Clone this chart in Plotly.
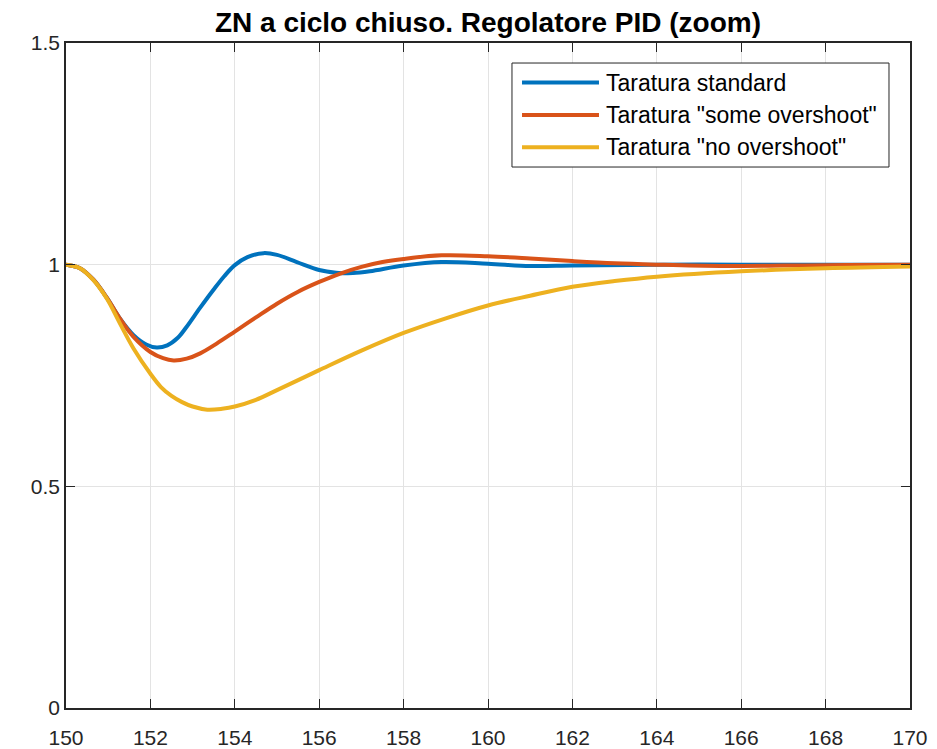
import plotly.graph_objects as go

# --- data ---
t_std = [150, 150.33, 150.65, 150.97, 151.28, 151.6, 151.9, 152.15, 152.4, 152.65,
         152.86, 153.18, 153.5, 153.75, 154.0, 154.3, 154.68, 155.0, 155.47, 156.0,
         156.4, 156.8, 157.2, 158.0, 158.9, 160.0, 161.0, 162.0, 164.0, 166.0, 168.0, 170.0]
y_std = [1.0, 0.992, 0.966, 0.925, 0.878, 0.841, 0.82, 0.813, 0.818, 0.835,
         0.86, 0.903, 0.944, 0.974, 0.999, 1.017, 1.026, 1.022, 1.006, 0.988,
         0.982, 0.981, 0.985, 0.998, 1.006, 1.002, 0.997, 0.998, 1.0, 1.0, 1.0, 1.0]

t_some = [150, 150.33, 150.65, 150.97, 151.28, 151.6, 152.0, 152.3, 152.55, 152.86,
          153.18, 153.57, 154.0, 154.5, 155.0, 155.5, 156.0, 156.5, 157.0, 157.5,
          158.0, 158.9, 160.0, 161.0, 162.0, 163.0, 164.0, 165.5, 167.0, 168.5, 170.0]
y_some = [1.0, 0.992, 0.966, 0.925, 0.878, 0.837, 0.803, 0.789, 0.784, 0.788,
          0.8, 0.822, 0.849, 0.881, 0.912, 0.939, 0.961, 0.98, 0.995, 1.006,
          1.013, 1.021, 1.019, 1.014, 1.008, 1.003, 1.0, 0.997, 0.998, 0.999, 1.0]

t_no = [150, 150.33, 150.65, 150.97, 151.28, 151.6, 152.0, 152.25, 152.5, 152.75,
        153.0, 153.35, 153.7, 154.0, 154.5, 155.0, 156.0, 157.0, 158.0, 159.0,
        160.0, 161.0, 162.0, 163.0, 164.0, 166.0, 168.0, 170.0]
y_no = [1.0, 0.992, 0.965, 0.923, 0.867, 0.811, 0.754, 0.724, 0.704, 0.69,
        0.68, 0.673, 0.675, 0.68, 0.695, 0.717, 0.762, 0.806, 0.846, 0.879,
        0.908, 0.93, 0.95, 0.963, 0.973, 0.985, 0.992, 0.996]

names = ["Taratura standard", 'Taratura "some overshoot"', 'Taratura "no overshoot"']
colors = ["#0072BD", "#D95319", "#EDB120"]

x_ticks = [150, 152, 154, 156, 158, 160, 162, 164, 166, 168, 170]
y_ticks = [0, 0.5, 1, 1.5]
y_tick_labels = ["0", "0.5", "1", "1.5"]

FONT = "Liberation Sans, Arial, Helvetica, sans-serif"
AX = "#262626"

fig = go.Figure()
for t, y, n, c in zip([t_std, t_some, t_no], [y_std, y_some, y_no], names, colors):
    fig.add_trace(go.Scatter(x=t, y=y, name=n, mode="lines", showlegend=False,
                             line=dict(color=c, width=4, shape="spline", smoothing=1.0)))

axis_common = dict(showline=True, mirror="ticks", linecolor=AX, linewidth=1.5,
                   ticks="inside", ticklen=9, tickcolor=AX, tickwidth=1.2,
                   showgrid=True, gridcolor="#e3e3e3", gridwidth=1, automargin=False,
                   zeroline=False, tickfont=dict(family=FONT, size=21, color=AX))

# --- legend box drawn in the plot-area frame (paper coordinates) ---
leg_x0, leg_x1, leg_y0, leg_y1 = 0.5284, 0.9751, 0.8135, 0.9699
line_x0, line_x1, text_x = 0.5403, 0.6315, 0.6374
row_y = [0.9405, 0.8919, 0.8433]

shapes = [dict(type="rect", xref="paper", yref="paper", x0=leg_x0, x1=leg_x1,
               y0=leg_y0, y1=leg_y1, line=dict(color=AX, width=1), fillcolor="white",
               layer="above")]
annotations = []
for n, c, ry in zip(names, colors, row_y):
    shapes.append(dict(type="line", xref="paper", yref="paper", x0=line_x0, x1=line_x1,
                       y0=ry, y1=ry, line=dict(color=c, width=4), layer="above"))
    annotations.append(dict(text=n, xref="paper", yref="paper", x=text_x, y=ry,
                            xanchor="left", yanchor="middle", showarrow=False,
                            font=dict(family=FONT, size=23, color="black")))

# the page body adds an 8px margin, so the figure is sized/margined to compensate
fig.update_layout(
    width=929, height=741,
    paper_bgcolor="white", plot_bgcolor="white",
    margin=dict(l=58, r=27, t=35, b=41),
    title=dict(text="<b>ZN a ciclo chiuso. Regolatore PID (zoom)</b>",
               x=0.5, xref="paper", xanchor="center", y=0.9811, yref="container",
               yanchor="middle",
               font=dict(family=FONT, size=28, color="black")),
    xaxis=dict(range=[150, 170], tickvals=x_ticks, ticktext=[str(v) for v in x_ticks],
               ticklabelstandoff=10, **axis_common),
    yaxis=dict(range=[0, 1.5], tickvals=y_ticks, ticktext=y_tick_labels, **axis_common),
    shapes=shapes,
    annotations=annotations,
    showlegend=False,
)

fig.write_html("out.html")
